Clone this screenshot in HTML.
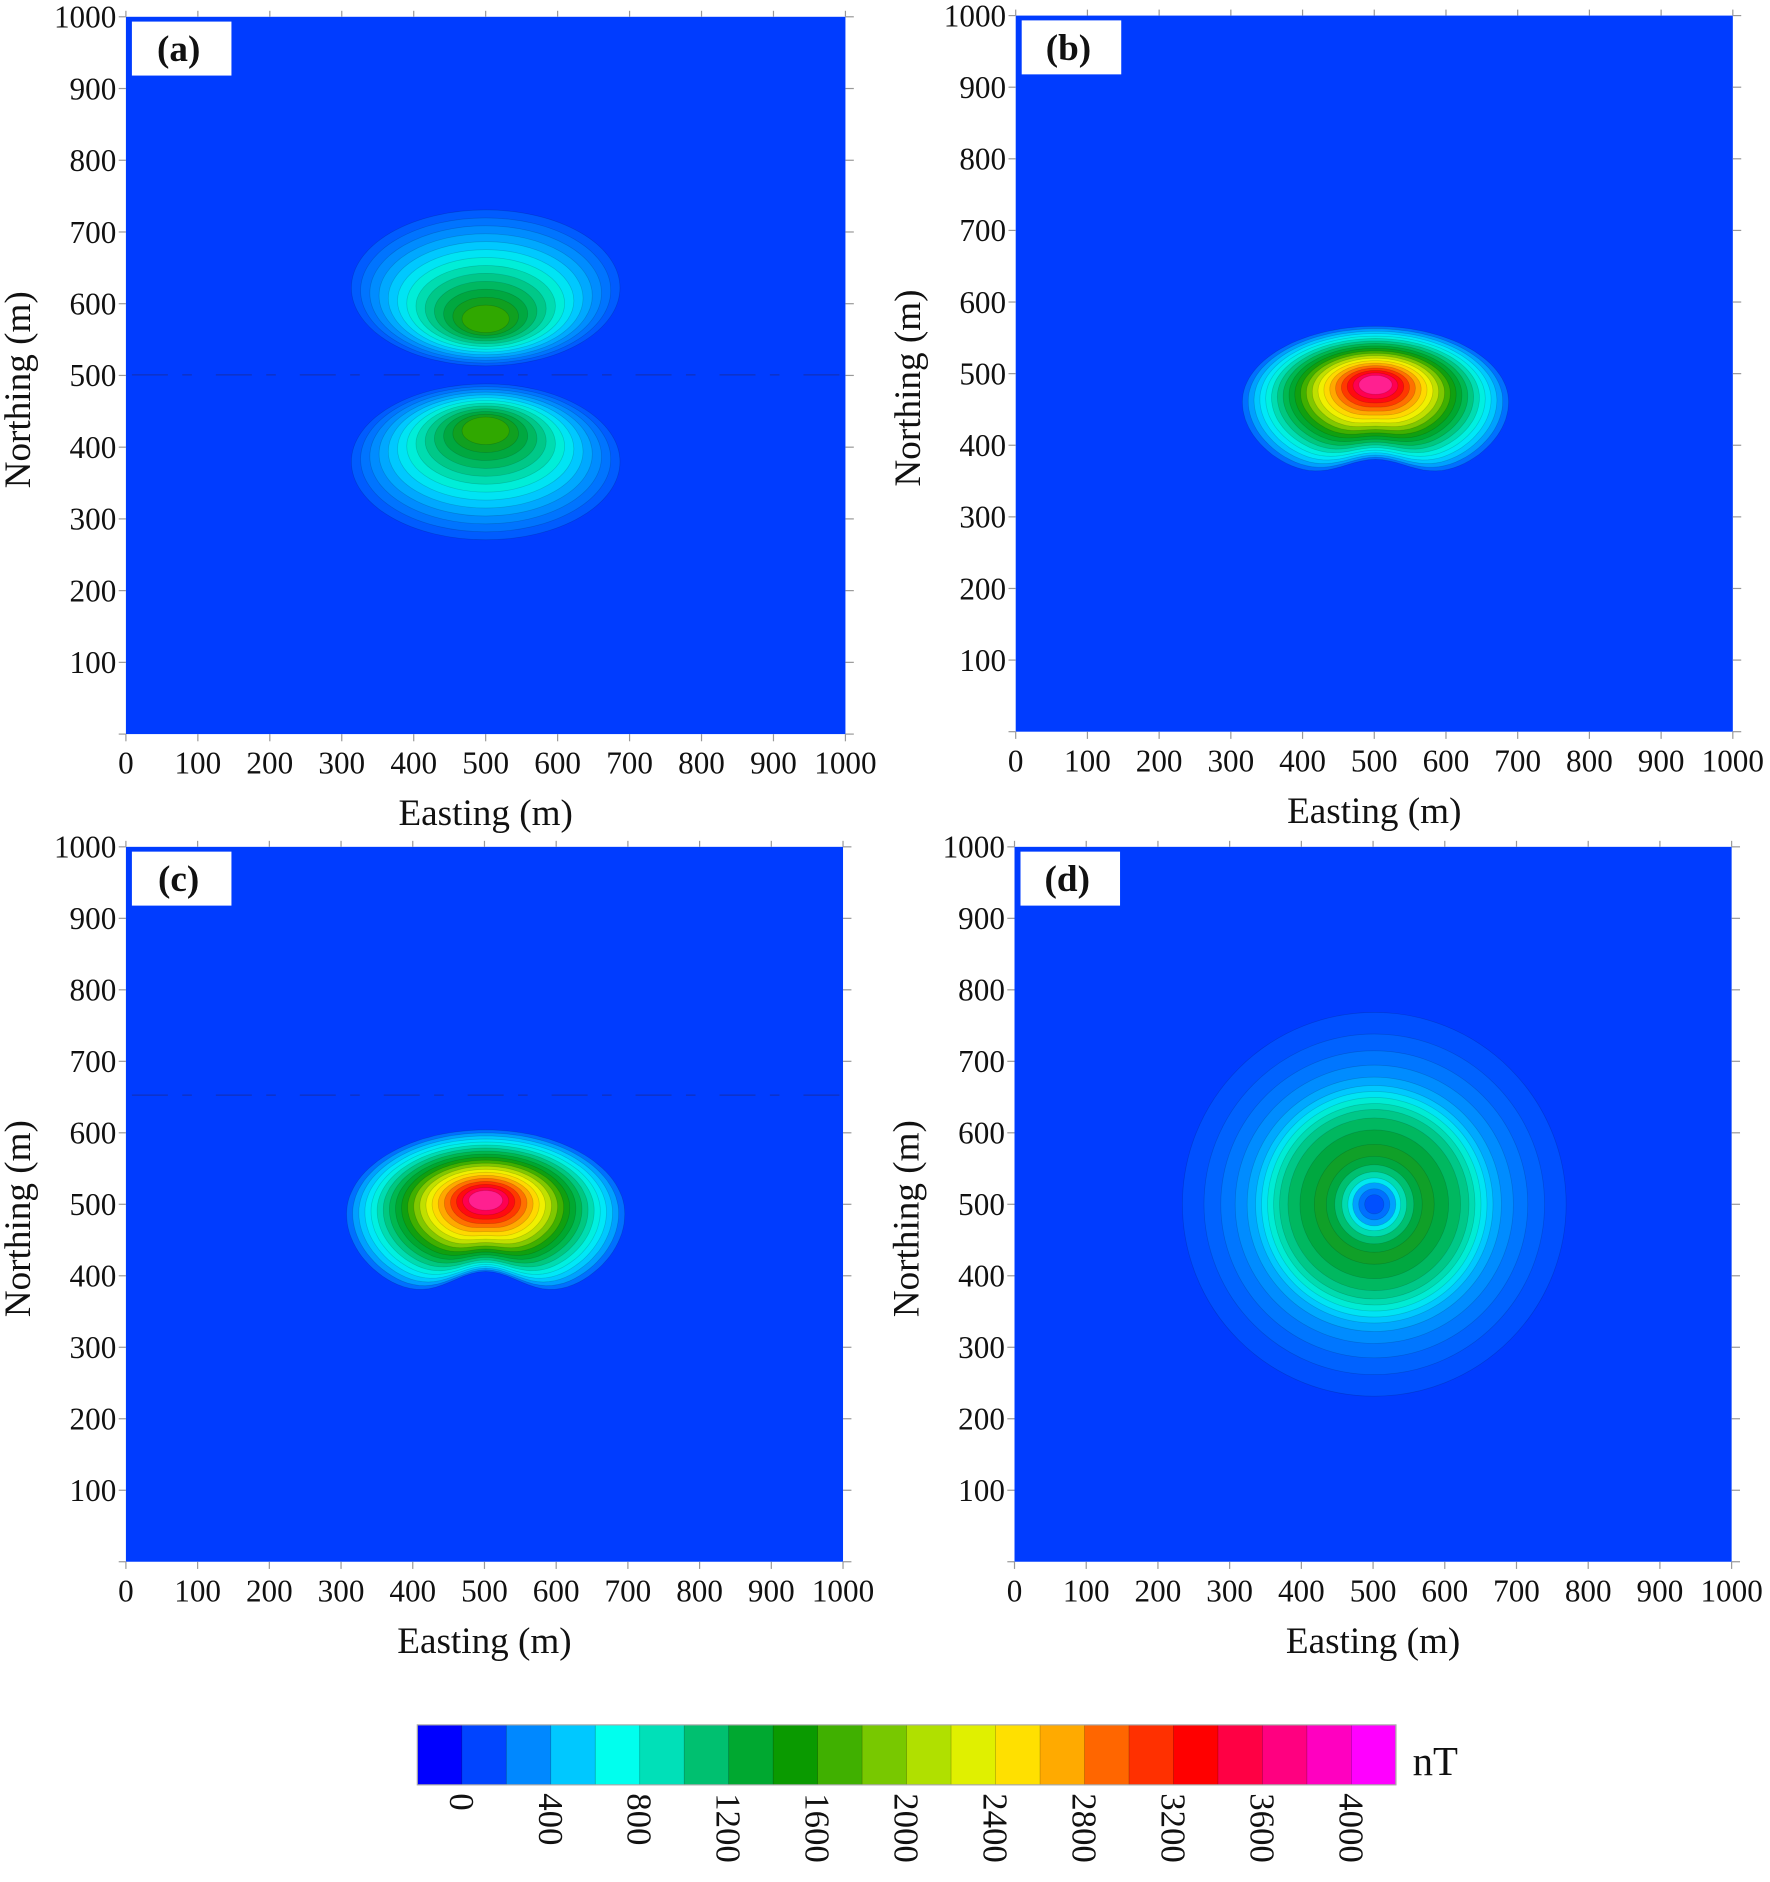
<!DOCTYPE html>
<html><head><meta charset="utf-8"><style>
html,body{margin:0;padding:0;background:#fff;}
svg{display:block;}
</style></head><body>
<svg id="s" width="1770" height="1882" viewBox="0 0 1476 1569" preserveAspectRatio="none" xmlns="http://www.w3.org/2000/svg" font-family="'Liberation Serif', 'DejaVu Serif', serif" fill="#111"></svg>
<script>
var s=document.getElementById('s');var h='';
var BG='#003cff';
var panels=[{x:105,y:14,w:600,h:598,l:'(a)'},{x:847,y:13,w:598,h:597,l:'(b)'},{x:105,y:706,w:598,h:596,l:'(c)'},{x:846,y:706,w:598,h:596,l:'(d)'}];
var FF=' font-family="Liberation Serif, serif" fill="#111"';
function axes(p){
 return '<rect x="'+p.x+'" y="'+p.y+'" width="'+p.w+'" height="'+p.h+'" fill="'+BG+'"/>';
}
function frame(p){
 var o='';
 for(var i=0;i<=10;i++){
  var x=p.x+p.w*i/10, y=p.y+p.h-p.h*i/10;
  o+='<line x1="'+x+'" y1="'+(p.y+p.h)+'" x2="'+x+'" y2="'+(p.y+p.h+6)+'" stroke="#999" stroke-width="1"/>';
  o+='<line x1="'+x+'" y1="'+(p.y)+'" x2="'+x+'" y2="'+(p.y-5)+'" stroke="#999" stroke-width="1"/>';
  o+='<text'+FF+' x="'+x+'" y="'+(p.y+p.h+33)+'" font-size="26" text-anchor="middle">'+(i*100)+'</text>';
  o+='<line x1="'+(p.x-6)+'" y1="'+y+'" x2="'+p.x+'" y2="'+y+'" stroke="#999" stroke-width="1"/>';
  o+='<line x1="'+(p.x+p.w)+'" y1="'+y+'" x2="'+(p.x+p.w+7)+'" y2="'+y+'" stroke="#999" stroke-width="1"/>';
  if(i>0) o+='<text'+FF+' x="'+(p.x-8)+'" y="'+(y+9)+'" font-size="26" text-anchor="end">'+(i*100)+'</text>';
 }
 o+='<text'+FF+' x="'+(p.x+p.w/2)+'" y="'+(p.y+p.h+76)+'" font-size="31" text-anchor="middle">Easting (m)</text>';
 var cy=p.y+p.h/2+12;
 o+='<text'+FF+' transform="translate('+(p.x-80)+','+cy+') rotate(-90)" font-size="31" text-anchor="middle">Northing (m)</text>';
 o+='<rect x="'+(p.x+5)+'" y="'+(p.y+4)+'" width="83" height="45" fill="#fff"/>';
 o+='<text'+FF+' x="'+(p.x+44)+'" y="'+(p.y+37)+'" font-size="31" font-weight="bold" text-anchor="middle">'+p.l+'</text>';
 return o;
}
function lerp(a,b,t){return a+(b-a)*t;}
function bean(cx,cy,rx,ryT,ryB,dent){
 var pts=[];
 for(var k=0;k<120;k++){var a=k/120*2*Math.PI;var c=Math.cos(a),sn=Math.sin(a);
  var x=cx+rx*c;var y;
  if(sn<0) y=cy+ryT*sn; else y=cy+ryB*sn-dent*Math.pow(sn,2)*Math.exp(-Math.pow(c/0.4,2));
  pts.push(x.toFixed(1)+','+y.toFixed(1));}
 return 'M'+pts.join('L')+'Z';
}
for(var i=0;i<4;i++) h+=axes(panels[i]);
var ca=['#005cff','#0074ff','#008cff','#00a8ff','#00c8ff','#00e4f4','#00eed8','#00dcb0','#00c888','#00b860','#00a840','#10a020','#30a800'];
for(var k=0;k<ca.length;k++){var t=1-k/ca.length;
 var rx=lerp(12,112,t),ry=lerp(7,65,t);
 var cyt=lerp(268,240,t), cyb=lerp(357,385,t);
 h+='<ellipse cx="405" cy="'+cyt+'" rx="'+rx+'" ry="'+ry+'" fill="'+ca[k]+'" stroke="rgba(0,0,0,0.15)" stroke-width="0.6"/>';
 h+='<ellipse cx="405" cy="'+cyb+'" rx="'+rx+'" ry="'+ry+'" fill="'+ca[k]+'" stroke="rgba(0,0,0,0.15)" stroke-width="0.6"/>';
}
h+='<line x1="110" y1="312.5" x2="700" y2="312.5" stroke="#1a2a90" stroke-opacity="0.6" stroke-width="1" stroke-dasharray="30,12,8,20"/>';
var cb=['#0070ff','#00a0ff','#00c8ff','#00e8f8','#00f0e0','#00dcb0','#00c880','#00b850','#00a830','#10a010','#40b000','#80c800','#c0e000','#f0f000','#ffd800','#ffa800','#ff7000','#ff3800','#ff0a10','#ff0050','#ff2090'];
function doBean(cx,cyC,cyO,rxO,ryTO,ryBO,dentO){
 for(var k=0;k<cb.length;k++){var t=1-k/cb.length;
  var rx=lerp(9,rxO,t),ryT=lerp(5,ryTO,t),ryB=lerp(5,ryBO,t),cy=lerp(cyC,cyO,t),d=dentO*t*t;
  h+='<path d="'+bean(cx,cy,rx,ryT,ryB,d)+'" fill="'+cb[k]+'" stroke="rgba(0,0,0,0.15)" stroke-width="0.6"/>';}
}
doBean(1147,320,335,111,63,70,22);
doBean(405,1000,1012,116,70,78,30);
h+='<line x1="110" y1="913" x2="700" y2="913" stroke="#1a2a90" stroke-opacity="0.6" stroke-width="1" stroke-dasharray="30,12,8,20"/>';
var rd=[[160,'#0050ff'],[142,'#0062ff'],[128,'#0076ff'],[116,'#008cff'],[106,'#00a8ff'],[99,'#00c8ff'],[94,'#00e4f4'],[89,'#00ecd4'],[84,'#00dcb0'],[79,'#00c888'],[72,'#00b860'],[62,'#00a840'],[50,'#10a028'],[40,'#00a840'],[33,'#00c070'],[27,'#00dcb0'],[22,'#00e8f0'],[18,'#00a0ff'],[13,'#0070ff'],[8,'#0050ff']];
for(var k=0;k<rd.length;k++) h+='<circle cx="1146" cy="1004" r="'+rd[k][0]+'" fill="'+rd[k][1]+'" stroke="rgba(0,0,0,0.15)" stroke-width="0.6"/>';
for(var i=0;i<4;i++) h+=frame(panels[i]);
var cc=['#0000ff','#0044ff','#0088ff','#00c8ff','#00ffee','#00e0b8','#00c070','#00a830','#0a9a00','#40b000','#78c800','#b0e000','#e0f000','#ffe000','#ffaa00','#ff6600','#ff3000','#ff0000','#ff0044','#ff0080','#ff00c0','#ff00ff'];
var x0=348,x1=1164,w=(x1-x0)/22;
for(var k=0;k<22;k++) h+='<rect x="'+(x0+k*w)+'" y="1438" width="'+(w+0.3)+'" height="50" fill="'+cc[k]+'" stroke="rgba(0,0,0,0.25)" stroke-width="0.6"/>';
h+='<rect x="'+x0+'" y="1438" width="'+(x1-x0)+'" height="50" fill="none" stroke="#aaa" stroke-width="1"/>';
for(var i=0;i<11;i++){var x=x0+w*(1+2*i);
 h+='<text'+FF+' transform="translate('+(x-10)+',1495) rotate(90)" font-size="29">'+(i*400)+'</text>';}
h+='<text'+FF+' x="1178" y="1480" font-size="34">nT</text>';
s.innerHTML=h;
</script>
</body></html>
